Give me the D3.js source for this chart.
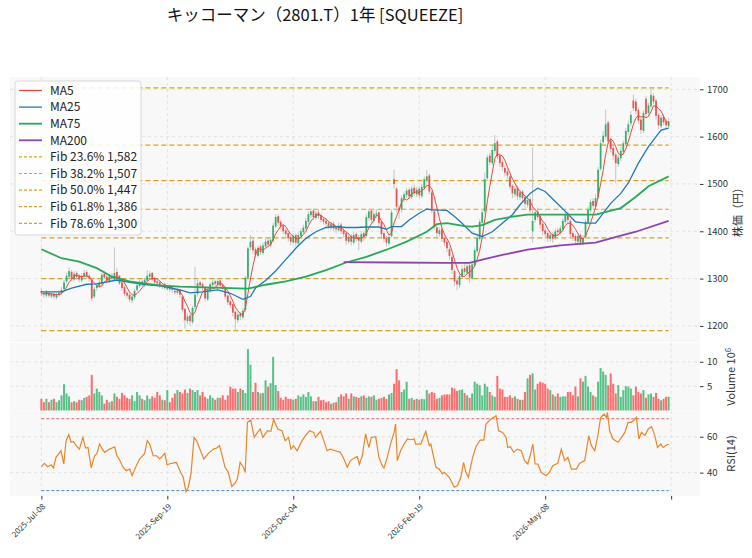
<!DOCTYPE html>
<html>
<head>
<meta charset="utf-8">
<script src="https://cdn.jsdelivr.net/npm/d3@7"></script>
<style>
  body { margin: 0; background: #fff; }
  text { font-family: "Noto Sans CJK JP", "Noto Sans", sans-serif; fill: #333; }
  .grid line { stroke: #d9d9d9; stroke-width: 0.7; stroke-dasharray: 3,3; }
  .axis path { display: none; }
  .axis line { stroke: #333; }
</style>
</head>
<body>
<script>
//Width and height
var w = 752;
var h = 558;

var titleText = "キッコーマン（2801.T）1年 [SQUEEZE]";

//x ticks (bar index) and their labels
var tickIndex = [0, 50, 100, 150, 200, 250];
var tickLabels = ["2025-Jul-08", "2025-Sep-19", "2025-Dec-04", "2026-Feb-19", "2026-May-08", ""];

//Daily candles, 250 bars
var opens = [1274,1268,1264,1270,1262,1268,1260,1265,1270,1278,
1294,1304,1314,1298,1312,1306,1296,1304,1314,1306,
1298,1262,1280,1284,1290,1310,1304,1294,1306,1298,
1314,1306,1292,1282,1270,1266,1254,1260,1276,1284,
1294,1286,1296,1304,1312,1300,1294,1292,1282,1288,
1278,1284,1278,1274,1270,1276,1262,1236,1210,1222,
1208,1240,1268,1292,1288,1282,1256,1274,1286,1294,
1287,1296,1286,1280,1264,1252,1246,1230,1212,1226,
1218,1234,1300,1366,1380,1362,1348,1368,1354,1368,
1380,1370,1380,1410,1432,1420,1412,1402,1396,1388,
1376,1392,1374,1390,1398,1406,1420,1434,1444,1428,
1440,1434,1426,1422,1418,1408,1416,1408,1402,1414,
1402,1396,1378,1390,1376,1394,1388,1378,1396,1390,
1428,1444,1422,1434,1440,1420,1396,1386,1374,1390,
1510,1490,1450,1446,1468,1476,1488,1472,1492,1478,
1490,1474,1492,1508,1518,1482,1442,1408,1394,1404,
1386,1378,1362,1346,1316,1296,1286,1304,1322,1312,
1328,1300,1328,1358,1384,1418,1442,1512,1560,1544,
1570,1590,1560,1546,1534,1526,1516,1496,1478,1492,
1472,1484,1472,1456,1468,1400,1424,1442,1432,1416,
1402,1396,1384,1394,1386,1402,1396,1404,1420,1438,
1422,1396,1390,1378,1392,1374,1388,1418,1444,1464,
1452,1472,1532,1588,1600,1630,1592,1576,1562,1542,
1554,1568,1584,1610,1628,1676,1674,1656,1636,1612,
1680,1650,1664,1686,1676,1646,1622,1642,1632,1622];

var highs = [1279,1273,1276,1274,1272,1271,1270,1275,1282,1298,
1312,1324,1318,1316,1316,1310,1311,1318,1318,1310,
1300,1282,1292,1298,1312,1316,1308,1310,1312,1366,
1322,1308,1294,1286,1274,1270,1266,1278,1290,1298,
1298,1302,1318,1316,1314,1304,1298,1296,1290,1292,
1286,1288,1282,1278,1280,1278,1264,1238,1226,1226,
1242,1325,1298,1296,1292,1284,1280,1292,1298,1298,
1300,1298,1290,1282,1266,1256,1248,1232,1230,1230,
1238,1306,1368,1392,1384,1366,1370,1372,1376,1384,
1386,1388,1418,1436,1436,1424,1416,1406,1400,1392,
1396,1396,1398,1406,1414,1428,1442,1448,1448,1444,
1446,1438,1430,1428,1422,1420,1420,1412,1418,1418,
1406,1398,1394,1394,1398,1398,1392,1400,1400,1436,
1448,1446,1442,1446,1442,1422,1398,1390,1394,1446,
1530,1494,1456,1476,1484,1492,1492,1496,1498,1494,
1494,1500,1516,1530,1522,1486,1446,1412,1408,1408,
1390,1382,1366,1350,1320,1302,1312,1328,1332,1334,
1332,1336,1366,1392,1426,1446,1524,1562,1566,1580,
1604,1594,1564,1552,1540,1532,1520,1500,1496,1496,
1488,1488,1476,1472,1472,1578,1448,1450,1436,1420,
1408,1400,1398,1398,1406,1408,1412,1428,1444,1442,
1426,1400,1394,1396,1396,1392,1426,1452,1468,1470,
1478,1536,1594,1612,1657,1634,1598,1580,1566,1562,
1578,1592,1618,1634,1654,1689,1680,1660,1640,1656,
1686,1672,1703,1692,1680,1650,1646,1648,1638,1640];

var lows = [1263,1260,1260,1259,1258,1256,1256,1261,1266,1274,
1290,1300,1296,1294,1298,1292,1292,1300,1300,1294,
1252,1258,1274,1280,1286,1298,1290,1290,1296,1294,
1300,1286,1274,1262,1258,1250,1248,1256,1272,1280,
1282,1282,1292,1300,1294,1288,1284,1280,1278,1276,
1274,1272,1270,1266,1266,1260,1228,1194,1204,1200,
1204,1236,1262,1280,1274,1252,1252,1270,1282,1284,
1283,1280,1274,1256,1244,1238,1220,1190,1206,1212,
1214,1230,1296,1360,1352,1344,1344,1350,1350,1364,
1366,1366,1376,1406,1412,1404,1394,1388,1378,1370,
1372,1368,1370,1386,1394,1402,1416,1428,1424,1424,
1426,1418,1414,1410,1404,1402,1400,1396,1398,1394,
1386,1372,1374,1370,1372,1378,1360,1374,1380,1386,
1422,1418,1418,1428,1412,1388,1376,1368,1370,1386,
1490,1440,1426,1440,1462,1470,1468,1468,1474,1472,
1470,1470,1488,1502,1478,1438,1404,1388,1388,1378,
1368,1356,1340,1310,1284,1276,1280,1300,1308,1308,
1291,1296,1324,1354,1380,1412,1438,1506,1540,1540,
1564,1552,1536,1528,1516,1510,1488,1470,1472,1466,
1466,1462,1450,1450,1438,1376,1418,1424,1406,1392,
1386,1378,1378,1376,1382,1390,1392,1400,1416,1418,
1388,1380,1374,1374,1370,1370,1384,1414,1440,1448,
1446,1468,1528,1580,1594,1584,1566,1550,1502,1536,
1548,1562,1580,1604,1622,1654,1648,1626,1606,1608,
1642,1644,1660,1668,1636,1616,1618,1624,1616,1618];

var closes = [1270,1266,1272,1264,1268,1262,1266,1270,1276,1292,
1306,1316,1300,1310,1304,1298,1306,1312,1305,1300,
1258,1278,1286,1292,1308,1302,1296,1305,1300,1312,
1304,1290,1280,1268,1264,1256,1262,1274,1286,1292,
1288,1298,1306,1310,1298,1292,1290,1284,1286,1280,
1282,1277,1276,1271,1275,1266,1234,1212,1220,1210,
1238,1266,1290,1286,1280,1258,1276,1288,1292,1289,
1295,1285,1278,1262,1250,1244,1228,1214,1224,1220,
1232,1302,1364,1378,1360,1350,1365,1356,1370,1378,
1372,1382,1412,1430,1418,1410,1400,1394,1385,1378,
1390,1376,1392,1400,1408,1422,1436,1442,1430,1438,
1432,1424,1420,1416,1410,1415,1406,1404,1412,1400,
1394,1380,1388,1378,1392,1386,1380,1394,1388,1430,
1442,1424,1436,1438,1418,1394,1384,1376,1388,1440,
1500,1452,1444,1470,1478,1486,1474,1490,1480,1488,
1476,1494,1510,1516,1484,1444,1410,1396,1402,1384,
1376,1364,1348,1318,1294,1288,1306,1320,1314,1326,
1302,1330,1360,1386,1420,1440,1510,1556,1546,1572,
1586,1558,1544,1536,1524,1518,1494,1480,1490,1474,
1482,1470,1458,1466,1444,1422,1440,1430,1414,1400,
1394,1386,1392,1384,1400,1398,1406,1422,1436,1424,
1394,1388,1380,1390,1376,1386,1420,1446,1462,1454,
1470,1530,1586,1602,1626,1590,1574,1560,1544,1556,
1570,1586,1612,1626,1646,1660,1654,1634,1614,1650,
1648,1666,1688,1674,1644,1624,1640,1630,1624,1632];

//the four closes before the first bar (for MA5)
var preCloses = [1262, 1268, 1272, 1266];

//Volume in millions
var volumes = [2.4,1.7,2.4,1.7,2.2,2.4,1.7,2.1,3.1,5.4,
3.5,2.9,1.7,1.9,1.7,2.2,2.1,2.6,2.8,3.1,
7.3,3.5,4.5,3.8,3.1,1.4,2.2,1.7,1.9,3.5,
2.8,2.4,3.6,3.1,2.6,2.4,3.1,1.9,3.8,3.1,
2.4,2.1,3.1,2.4,2.9,2.6,3.8,3.1,2.2,2.1,
4.2,1.7,2.6,3.5,4.2,3.8,3.5,4.3,3.6,4.5,
4.2,3.8,4.2,3.1,3.8,2.8,2.4,3.1,2.6,2.2,
2.6,2.6,3.1,2.2,3.1,4.9,4.5,4.5,3.8,4.5,
4.2,3.6,12.6,9.4,3.8,5.7,3.8,3.5,3.6,6.2,
4.9,5.6,11.0,5.2,4.0,2.6,2.2,2.8,2.4,2.4,
2.2,2.4,3.1,2.8,3.3,2.8,3.8,2.9,1.9,1.9,
2.8,2.1,2.2,1.7,1.9,1.4,1.6,1.7,2.8,3.3,
2.9,3.5,2.4,3.5,2.9,2.8,2.6,2.9,3.1,2.6,
2.9,2.8,3.1,2.2,2.4,2.6,2.8,2.4,3.3,3.6,
5.5,8.5,6.2,3.8,4.3,5.9,2.4,2.6,2.2,2.4,
2.2,2.4,2.3,4.2,3.5,3.8,3.6,2.4,2.6,3.1,
3.3,3.3,3.3,4.7,4.5,4.0,4.2,4.3,3.6,3.1,
2.6,3.5,5.9,5.5,5.2,3.1,5.5,4.9,3.8,3.1,
2.8,7.1,4.5,4.3,2.8,2.8,3.1,2.6,2.9,2.4,
2.2,2.2,3.8,6.6,7.3,7.6,4.3,5.5,5.9,5.7,
5.5,4.5,4.2,3.3,2.9,3.5,2.8,2.9,2.9,3.8,
3.8,3.1,4.9,2.9,6.6,5.9,7.1,4.9,3.8,3.1,
2.8,5.9,8.7,8.0,7.3,5.2,7.6,5.5,3.5,5.2,
2.8,4.2,5.0,4.9,4.5,3.1,4.9,3.8,3.5,4.2,
2.6,3.3,3.5,2.8,3.6,2.4,2.1,2.4,2.8,2.8];

//Longer moving averages: [bar index, value]
var ma25Points = [[0,1272],[8,1272],[12,1280],[18,1288],[22,1289],[30,1297],[35,1292],[42,1287],
[48,1284],[55,1276],[59,1270],[64,1272],[70,1276],[75,1269],[80,1256],[83,1262],[85,1280],
[89,1296],[93,1316],[97,1340],[101,1364],[105,1385],[109,1399],[113,1408],[117,1410],[121,1408],
[125,1408],[129,1409],[134,1409],[137,1404],[139,1410],[143,1410],[146,1424],[150,1438],[153,1447],
[155,1445],[161,1444],[164,1431],[167,1417],[171,1396],[175,1389],[179,1399],[183,1417],[187,1435],
[190,1456],[194,1480],[197,1491],[200,1484],[204,1463],[208,1442],[212,1420],[216,1417],[220,1417],
[222,1431],[226,1459],[230,1480],[233,1502],[237,1544],[241,1579],[245,1607],[246,1614],[249,1618]];

var ma75Points = [[0,1362],[8,1343],[15,1336],[22,1322],[28,1304],[35,1294],[42,1289],[48,1285],
[55,1283],[62,1282],[68,1281],[75,1280],[82,1279],[89,1287],[97,1294],[105,1304],[113,1318],
[121,1334],[129,1346],[137,1361],[145,1378],[153,1399],[157,1415],[161,1417],[168,1411],[171,1410],
[175,1413],[180,1424],[187,1431],[193,1435],[200,1435],[206,1435],[213,1435],[220,1435],[225,1442],
[230,1449],[236,1473],[241,1495],[249,1516]];

var ma200Points = [[120,1335],[140,1334],[160,1333],[170,1333],[175,1340],[183,1350],[193,1361],
[206,1370],[220,1376],[226,1385],[236,1399],[249,1422]];

//RSI(14): [bar index, value]
var rsiPoints = [[0,43.3],[1.2,45.2],[2.5,43.3],[3.9,44.4],[4.8,42.6],[5.8,48.5],[7.8,52.2],[8.9,44.8],
[9.8,57.8],[10.9,61.1],[11.8,56.9],[12.7,57.4],[13.8,55],[15.1,53.1],[16.5,59.6],[17.5,53.7],[18.5,54],
[19.8,42.6],[21.1,49.4],[22,50.4],[23.1,55.9],[24.2,53.1],[25.1,51.3],[27.1,53.1],[29.1,54.4],[30,49.4],
[31.1,47],[32.4,43],[33.7,41.1],[35.1,42],[36,38.3],[37.7,43.9],[39,47.6],[41,50.7],[42,57.8],[43,55.9],
[44.4,49.4],[45.7,49.4],[47,47.6],[49,50.7],[49.9,44.4],[51.7,45.2],[53.6,45.7],[55,41.1],[56.3,37.4],
[57.4,29.4],[58.3,31.9],[59.4,39.3],[60.6,59.6],[61.6,57.8],[63.2,52.2],[64.5,47.6],[66.3,50.7],
[68.3,53.1],[69.6,53.7],[70.7,55],[71.6,50.4],[72.9,43],[74.2,40.2],[75.6,32.2],[76.9,34.1],[77.8,36.5],
[78.9,45.7],[80.2,43],[80.9,40.2],[81.8,68],[83.1,69.3],[84.5,59.6],[85.8,62.4],[86.9,64.3],[87.9,59.6],
[89.8,63.3],[91.1,63],[92.2,69.6],[93.8,64.3],[95.5,63.3],[96.8,57.8],[98.1,59.6],[99.1,53.1],[100.1,55],
[101.5,52.2],[103.5,57.8],[104.8,60.6],[106.5,63.3],[108.1,62.4],[108.8,59.6],[110.8,63],[112.1,57.8],
[113.4,52.2],[114.7,53.1],[116.7,52.2],[118.7,51.3],[120.1,47.6],[121.4,43],[122.7,46.7],[124.7,48.5],
[125.4,48.9],[126.2,44.6],[127.4,49.4],[128.7,61.5],[130,54],[131,59.6],[132.7,60],[134,48.5],
[135.3,43.9],[136,42.6],[137.3,48.5],[138.6,55.9],[140,62.4],[140.6,67],[141.3,46.7],[142.6,52.2],
[144,55.9],[145.3,58.7],[146.6,58.3],[148,58.7],[148.6,55.9],[150.6,55.9],[152.6,63],[154,55],
[154.6,55.9],[156.6,43],[157.9,42],[159.2,39.3],[159.9,40.2],[161.9,37.4],[163.9,31.9],[165.2,32.8],
[166.5,37.4],[167.6,45.7],[168.5,40.2],[169.5,37.4],[171.2,48.5],[172.5,54.4],[174.2,58.1],[175.6,58.1],
[176.5,67],[178.5,69.8],[180.5,71.7],[181.5,63.3],[183.1,62.4],[184.5,59.6],[185.1,54],[186.2,54.4],
[187.5,51.3],[188.9,53.1],[190.5,52.2],[191.8,46.7],[193.1,44.8],[194.2,50.4],[195.1,55.9],[196,44.8],
[197.1,44.8],[198.4,40.2],[200.4,38.3],[201.7,40.2],[203,43.9],[205,45.2],[206.4,53.1],[207.7,46.7],
[209,48.5],[210.4,42],[212.4,42],[213.7,45.2],[215.7,46.7],[217.3,60.6],[218.3,55],[219.7,52.2],
[221,61.5],[222,70.7],[223.4,72.6],[224.3,70.7],[224.7,73.5],[225.6,63.3],[226.9,58.7],[228.9,56.9],
[230.3,59.6],[231.6,62.4],[232.9,68],[234.2,68],[235.3,69.3],[236.2,70.7],[237.2,58.7],[238.2,62.4],
[239.6,60.6],[240.9,64.3],[242.2,65.6],[243.5,60.6],[244.6,54],[245.9,55.9],[246.8,54],[248.1,55.4],[249,55.8]];

//Fibonacci retracement ratios (legend shows the inner five)
var fibRatios = [0, 0.236, 0.382, 0.5, 0.618, 0.786, 1];
var fibLegend = [0.236, 0.382, 0.5, 0.618, 0.786];

var n = closes.length;
var left = 10, right = 700;
var priceTop = 77, priceBottom = 342;
var volTop = 343, volBottom = 410.5;
var rsiTop = 411, rsiBottom = 496;

var upColor = "#2fb36b", downColor = "#f04f4f";

//MA5 from closes
var allCloses = preCloses.concat(closes);
var ma5 = closes.map(function (d, i) {
  return d3.mean(allCloses.slice(i, i + 5));
});

var svg = d3.select("body").append("svg").attr("width", w).attr("height", h);

//Scales
var xScale = d3.scaleLinear().domain([-0.05 * (n - 1), 1.05 * (n - 1)]).range([left, right]);
var yPrice = d3.scaleLinear().domain([1166, 1726]).range([priceBottom, priceTop]);
var yVol = d3.scaleLinear().domain([0, 13.85]).range([volBottom, volTop]);
var yRsi = d3.scaleLinear().domain([27, 74.3]).range([rsiBottom, rsiTop]);

//Panel backgrounds
[[priceTop, priceBottom], [volTop, volBottom], [rsiTop, rsiBottom]].forEach(function (p) {
  svg.append("rect")
    .attr("x", left).attr("y", p[0])
    .attr("width", right - left).attr("height", p[1] - p[0])
    .attr("fill", "#f8f8f8");
});

//Grid
function drawGrid(top, bottom, yTicks, yScale) {
  var g = svg.append("g").attr("class", "grid");
  g.selectAll(".v").data(tickIndex).enter().append("line")
    .attr("x1", function (d) { return xScale(d); })
    .attr("x2", function (d) { return xScale(d); })
    .attr("y1", top).attr("y2", bottom);
  g.selectAll(".h").data(yTicks).enter().append("line")
    .attr("x1", left).attr("x2", right)
    .attr("y1", function (d) { return yScale(d); })
    .attr("y2", function (d) { return yScale(d); });
}
drawGrid(priceTop, priceBottom, [1200, 1300, 1400, 1500, 1600, 1700], yPrice);
drawGrid(volTop, volBottom, [5, 10], yVol);
drawGrid(rsiTop, rsiBottom, [40, 60], yRsi);

//Fibonacci lines
var hi = d3.max(highs), lo = d3.min(lows);
var fibLevel = function (r) { return hi - r * (hi - lo); };
svg.append("g").selectAll("line").data(fibRatios).enter().append("line")
  .attr("x1", xScale(0)).attr("x2", xScale(n - 1))
  .attr("y1", function (d) { return yPrice(fibLevel(d)); })
  .attr("y2", function (d) { return yPrice(fibLevel(d)); })
  .attr("stroke", "#d9a21b").attr("stroke-width", 1.2)
  .attr("stroke-dasharray", "5,3");

//Candles
var idx = d3.range(n);
svg.append("g").selectAll("line").data(idx).enter().append("line")
  .attr("x1", function (i) { return xScale(i); })
  .attr("x2", function (i) { return xScale(i); })
  .attr("y1", function (i) { return yPrice(highs[i]); })
  .attr("y2", function (i) { return yPrice(lows[i]); })
  .attr("stroke", "#c4c4c4").attr("stroke-width", 1);

var bodyW = xScale(0.7) - xScale(0);
svg.append("g").selectAll("rect").data(idx).enter().append("rect")
  .attr("x", function (i) { return xScale(i) - bodyW / 2; })
  .attr("width", bodyW)
  .attr("y", function (i) { return yPrice(Math.max(opens[i], closes[i])); })
  .attr("height", function (i) {
    return Math.max(0.8, Math.abs(yPrice(opens[i]) - yPrice(closes[i])));
  })
  .attr("fill", function (i) { return closes[i] >= opens[i] ? upColor : downColor; });

//Moving averages
var line = d3.line()
  .x(function (d) { return xScale(d[0]); })
  .y(function (d) { return yPrice(d[1]); });

var maSeries = [
  { name: "MA5", color: "#e8493b", width: 1, pts: ma5.map(function (v, i) { return [i, v]; }) },
  { name: "MA25", color: "#2378b8", width: 1.3, pts: ma25Points },
  { name: "MA75", color: "#27a95a", width: 1.8, pts: ma75Points },
  { name: "MA200", color: "#8e44ad", width: 1.8, pts: ma200Points }
];
maSeries.forEach(function (s) {
  svg.append("path").datum(s.pts)
    .attr("d", line).attr("fill", "none")
    .attr("stroke", s.color).attr("stroke-width", s.width);
});

//Volume
var barW = xScale(0.8) - xScale(0);
svg.append("g").selectAll("rect").data(idx).enter().append("rect")
  .attr("x", function (i) { return xScale(i) - barW / 2; })
  .attr("width", barW)
  .attr("y", function (i) { return yVol(volumes[i]); })
  .attr("height", function (i) { return yVol(0) - yVol(volumes[i]); })
  .attr("fill", function (i) { return closes[i] >= opens[i] ? "#2fb36b" : "#ff4a4a"; })
  .attr("opacity", 0.8);

//RSI
svg.append("line")
  .attr("x1", xScale(0)).attr("x2", xScale(n - 1))
  .attr("y1", yRsi(70)).attr("y2", yRsi(70))
  .attr("stroke", "#e05050").attr("stroke-width", 0.9).attr("stroke-dasharray", "3,2");
svg.append("line")
  .attr("x1", xScale(0)).attr("x2", xScale(n - 1))
  .attr("y1", yRsi(30)).attr("y2", yRsi(30))
  .attr("stroke", "#3a7fb5").attr("stroke-width", 0.9).attr("stroke-dasharray", "3,2");

var rsiLine = d3.line()
  .x(function (d) { return xScale(d[0]); })
  .y(function (d) { return yRsi(d[1]); });
svg.append("path").datum(rsiPoints)
  .attr("d", rsiLine).attr("fill", "none")
  .attr("stroke", "#e8862a").attr("stroke-width", 1.2);

//Axes
function rightAxis(scale, values) {
  var g = svg.append("g").attr("class", "axis")
    .attr("transform", "translate(" + right + ",0)")
    .call(d3.axisRight(scale).tickValues(values).tickSize(3.5).tickPadding(3.5).tickFormat(d3.format("d")));
  g.selectAll("text").style("font-size", "9.5px").style("fill", "#333");
}
rightAxis(yPrice, [1200, 1300, 1400, 1500, 1600, 1700]);
rightAxis(yVol, [5, 10]);
rightAxis(yRsi, [40, 60]);

var xAxis = svg.append("g").attr("class", "axis")
  .attr("transform", "translate(0," + rsiBottom + ")")
  .call(d3.axisBottom(xScale).tickValues(tickIndex).tickSize(3.5)
    .tickFormat(function (d, i) { return tickLabels[i]; }));
xAxis.selectAll("text")
  .style("font-size", "8px").style("text-anchor", "end")
  .attr("x", 0).attr("y", 0).attr("dy", 0)
  .attr("transform", "translate(4,11) rotate(-45)");

//Axis labels
svg.append("text").attr("transform", "translate(742," + ((priceTop + priceBottom) / 2) + ") rotate(-90)")
  .attr("text-anchor", "middle").style("font-size", "11px").text("株価（円）");
var volLabel = svg.append("text")
  .attr("transform", "translate(735," + ((volTop + volBottom) / 2) + ") rotate(-90)")
  .attr("text-anchor", "middle").style("font-size", "11px");
volLabel.append("tspan").text("Volume  10");
volLabel.append("tspan").attr("dy", "-0.45em").style("font-size", "8px").text("6");
svg.append("text").attr("transform", "translate(735," + ((rsiTop + rsiBottom) / 2) + ") rotate(-90)")
  .attr("text-anchor", "middle").style("font-size", "11px").text("RSI(14)");

//Title
svg.append("text").attr("x", 315).attr("y", 21).attr("text-anchor", "middle")
  .style("font-size", "16.5px").style("fill", "#111").text(titleText);

//Legend
var legendItems = maSeries.map(function (s) {
  return { label: s.name, color: s.color, width: s.width > 1.5 ? 1.8 : 1.3, dash: null };
}).concat(fibLegend.map(function (r) {
  return {
    label: "Fib " + (r * 100).toFixed(1) + "% " + d3.format(",")(Math.round(fibLevel(r))),
    color: "#d9a21b", width: 1.2, dash: "3,2"
  };
}));

var legend = svg.append("g").attr("transform", "translate(15,81)");
legend.append("rect")
  .attr("width", 126).attr("height", 154).attr("rx", 3)
  .attr("fill", "#fff").attr("fill-opacity", 0.85)
  .attr("stroke", "#cfcfcf").attr("stroke-width", 0.8);
var items = legend.selectAll("g.item").data(legendItems).enter().append("g")
  .attr("transform", function (d, i) { return "translate(0," + (9.5 + i * 16.6) + ")"; });
items.append("line")
  .attr("x1", 4).attr("x2", 27)
  .attr("stroke", function (d) { return d.color; })
  .attr("stroke-width", function (d) { return d.width; })
  .attr("stroke-dasharray", function (d) { return d.dash; });
items.append("text").attr("x", 35).attr("dy", "0.35em")
  .style("font-size", "12px").style("fill", "#222")
  .text(function (d) { return d.label; });
</script>
</body>
</html>
